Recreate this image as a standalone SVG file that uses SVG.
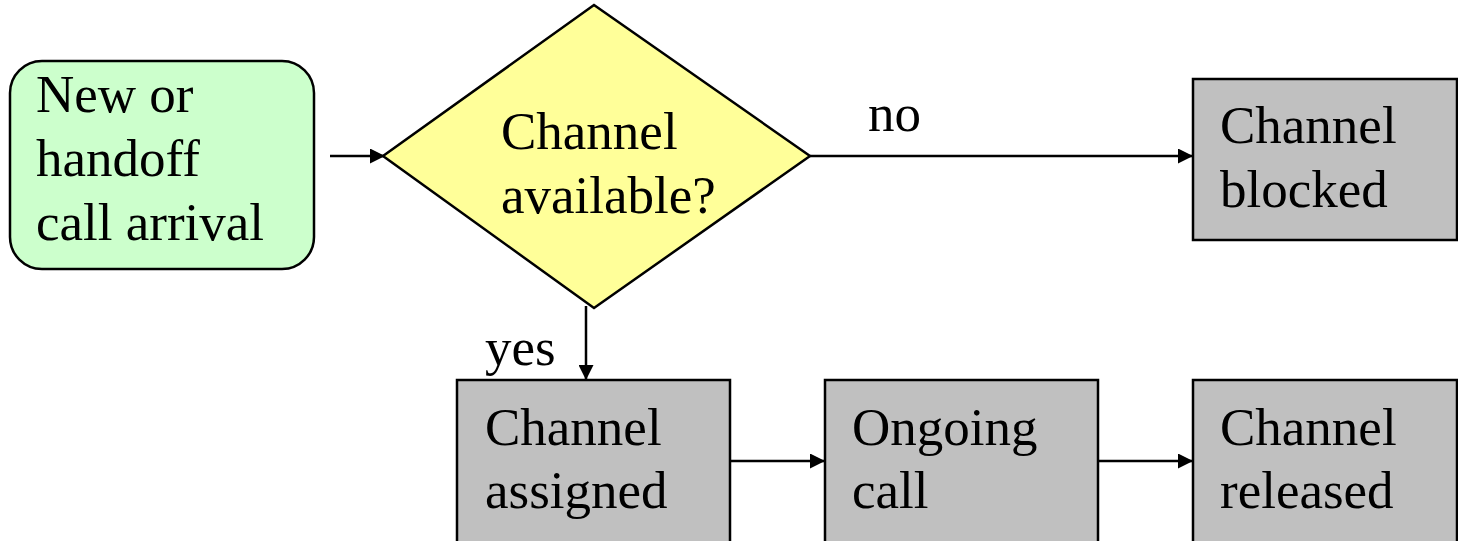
<svg xmlns="http://www.w3.org/2000/svg" width="1458" height="541" viewBox="0 0 1458 541">
<defs>
<style>
.t{font-family:"Liberation Serif","Times New Roman",serif;font-size:53px;fill:#000}
.box{fill:#C0C0C0;stroke:#000;stroke-width:2.5}
.ln{stroke:#000;stroke-width:2.5;fill:none;marker-end:url(#ah)}
</style>
<marker id="ah" viewBox="0 0 10 10" refX="10" refY="5" markerWidth="6" markerHeight="6" markerUnits="strokeWidth" orient="auto">
<path d="M0,0 L10,5 L0,10 z" fill="#000"/>
</marker>
</defs>
<rect width="1458" height="541" fill="#fff"/>
<g id="connectors">
<line class="ln" x1="330" y1="156" x2="385" y2="156"/>
<line class="ln" x1="810" y1="156" x2="1193" y2="156"/>
<line class="ln" x1="586" y1="306" x2="586" y2="380"/>
<line class="ln" x1="730" y1="461" x2="825" y2="461"/>
<line class="ln" x1="1098" y1="461" x2="1193" y2="461"/>
<text class="t" x="868" y="131">no</text>
<text class="t" x="485" y="365">yes</text>
</g>
<g id="arrival">
<rect x="10" y="61" width="304" height="208" rx="32" fill="#CCFFCC" stroke="#000" stroke-width="2.5"/>
<text class="t" x="36" y="112">New or</text>
<text class="t" x="36" y="176">handoff</text>
<text class="t" x="36" y="240">call arrival</text>
</g>
<g id="decision">
<polygon points="594,5 810,156 594,308 383,156" fill="#FFFF99" stroke="#000" stroke-width="2.5"/>
<text class="t" x="501" y="149">Channel</text>
<text class="t" x="501" y="213">available?</text>
</g>
<g id="blocked">
<rect class="box" x="1193" y="79" width="264" height="161"/>
<text class="t" x="1220" y="143">Channel</text>
<text class="t" x="1220" y="207">blocked</text>
</g>
<g id="assigned">
<rect class="box" x="457" y="380" width="273" height="170"/>
<text class="t" x="485" y="445">Channel</text>
<text class="t" x="485" y="508">assigned</text>
</g>
<g id="ongoing">
<rect class="box" x="825" y="380" width="273" height="170"/>
<text class="t" x="852" y="445">Ongoing</text>
<text class="t" x="852" y="508">call</text>
</g>
<g id="released">
<rect class="box" x="1193" y="380" width="264" height="170"/>
<text class="t" x="1220" y="445">Channel</text>
<text class="t" x="1220" y="508">released</text>
</g>
</svg>
